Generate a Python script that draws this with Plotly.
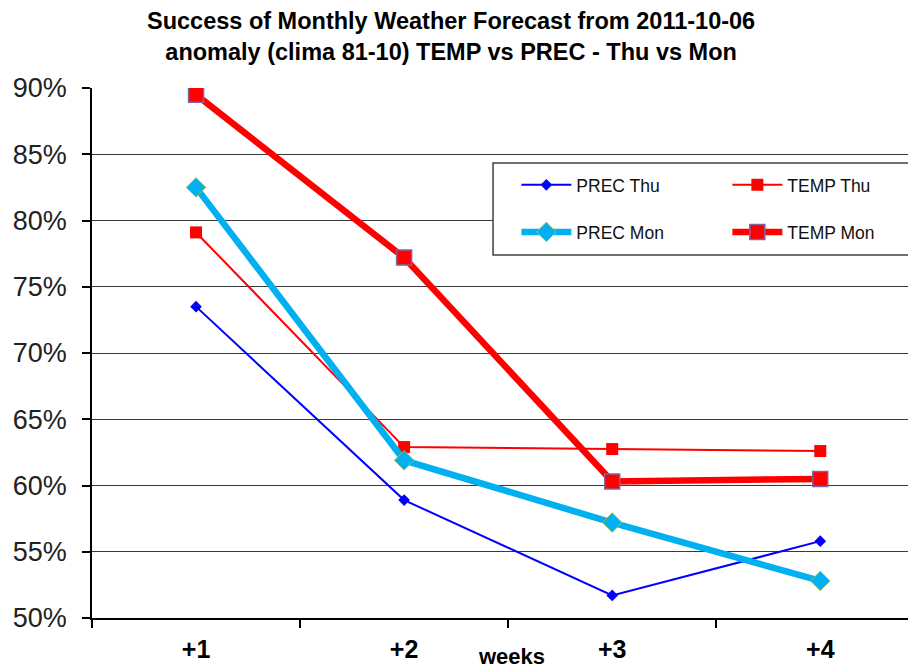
import plotly.graph_objects as go

weeks = ["+1", "+2", "+3", "+4"]
prec_thu = [73.5, 58.9, 51.7, 55.8]
temp_thu = [79.1, 62.9, 62.75, 62.6]
prec_mon = [82.5, 61.9, 57.2, 52.8]
temp_mon = [89.5, 77.2, 60.3, 60.5]
y_ticks = [50, 55, 60, 65, 70, 75, 80, 85, 90]
y_labels = [f"{v}%" for v in y_ticks]

FONT = "Liberation Sans, Arial, sans-serif"

fig = go.Figure()
fig.add_trace(go.Scatter(x=weeks, y=prec_thu, name="PREC Thu", mode="lines+markers",
                         legend="legend",
                         line=dict(color="#0000FF", width=2),
                         marker=dict(symbol="diamond", size=9, color="#0000FF")))
fig.add_trace(go.Scatter(x=weeks, y=temp_thu, name="TEMP Thu", mode="lines+markers",
                         legend="legend",
                         line=dict(color="#FF0000", width=2),
                         marker=dict(symbol="square", size=12, color="#FF0000")))
fig.add_trace(go.Scatter(x=weeks, y=prec_mon, name="PREC Mon", mode="lines+markers",
                         legend="legend2",
                         line=dict(color="#00B0F0", width=6.5),
                         marker=dict(symbol="diamond", size=15, color="#00B0F0",
                                     line=dict(color="#9BBB59", width=1))))
fig.add_trace(go.Scatter(x=weeks, y=temp_mon, name="TEMP Mon", mode="lines+markers",
                         legend="legend2",
                         line=dict(color="#FF0000", width=6.5),
                         marker=dict(symbol="square", size=15, color="#FF0000",
                                     line=dict(color="#8064A2", width=1.5))))

legend_common = dict(orientation="h", xanchor="left", yanchor="middle",
                     xref="paper", yref="paper", bgcolor="rgba(0,0,0,0)",
                     borderwidth=0, entrywidth=146, entrywidthmode="pixels",
                     itemwidth=50,
                     font=dict(size=17.5, family=FONT, color="#111111"))

fig.update_layout(
    width=908, height=657,
    margin=dict(l=84, r=0, t=80, b=47, autoexpand=False),
    paper_bgcolor="white", plot_bgcolor="white",
    font=dict(family=FONT, color="black"),
    title=dict(text="<b>Success of Monthly Weather Forecast from 2011-10-06<br>anomaly (clima 81-10) TEMP vs PREC - Thu vs Mon</b>",
               x=0.488, xanchor="center", xref="container", yref="container",
               y=1 - 21 / 657, yanchor="middle",
               font=dict(size=23.5, color="black", family=FONT)),
    showlegend=True,
    legend=dict(x=0.515, y=0.817, **legend_common),
    legend2=dict(x=0.515, y=0.7283, **legend_common),
    xaxis=dict(type="category", categoryorder="array", categoryarray=weeks,
               range=[-0.5, 3.46], tickson="boundaries", ticks="outside", ticklen=8,
               tickcolor="black", tickwidth=1.5, showline=True, linecolor="black", linewidth=2,
               showgrid=False, tickfont=dict(size=25, family=FONT, color="black"),
               ticklabelstandoff=8, tickprefix="<b>", ticksuffix="</b>", zeroline=False,
               automargin=False),
    yaxis=dict(range=[50, 90], tickvals=y_ticks, ticktext=y_labels, showline=True,
               linecolor="black", linewidth=1.5, ticks="outside", ticklen=8, tickcolor="black",
               tickwidth=1.5, showgrid=True, gridcolor="#3a3a3a", gridwidth=1,
               tickfont=dict(size=27, color="#222222", family=FONT), zeroline=False,
               ticklabelstandoff=10, automargin=False),
    shapes=[dict(type="rect", xref="paper", yref="paper",
                 x0=0.4867, x1=0.9927, y0=0.6849, y1=0.8585,
                 fillcolor="white", line=dict(color="#404040", width=1.5),
                 layer="above")],
)

fig.add_annotation(text="<b>weeks</b>", xref="x", x=1.5, xshift=3, yref="paper", y=0,
                   yanchor="top", yshift=-24, showarrow=False,
                   font=dict(size=22, color="black", family=FONT))

fig.write_html("out.html")
